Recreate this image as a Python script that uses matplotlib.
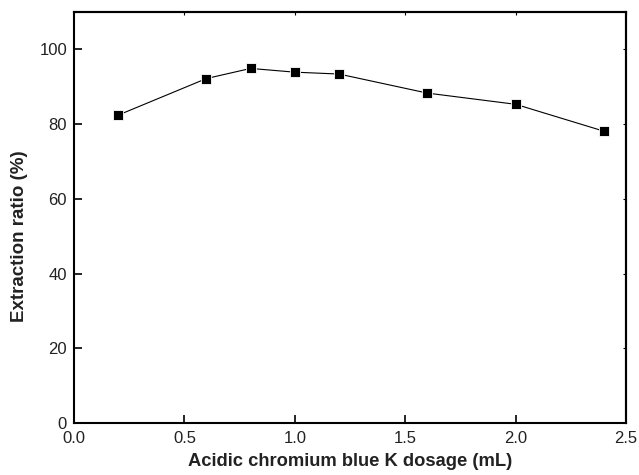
import matplotlib.pyplot as plt

plt.rcParams["font.family"] = ["Liberation Sans", "DejaVu Sans"]

dosage = [0.2, 0.6, 0.8, 1.0, 1.2, 1.6, 2.0, 2.4]
extraction = [82.4, 92.2, 94.9, 93.9, 93.4, 88.3, 85.3, 78.1]

fig = plt.figure(figsize=(6.39, 4.75), dpi=100)
ax = fig.add_axes([0.1158, 0.1095, 0.8639, 0.8652])

ax.plot(dosage, extraction, color="black", lw=0.8, marker="s", ms=7,
        mfc="black", mec="white", mew=0.6)

ax.set_xlim(0, 2.5)
ax.set_ylim(0, 110)
ax.set_xticks([0.0, 0.5, 1.0, 1.5, 2.0, 2.5])
ax.set_yticks([0, 20, 40, 60, 80, 100])
ax.tick_params(direction="in", length=6, width=1.2, labelsize=12, pad=5,
               labelcolor="#222222")
ax.tick_params(axis="x", pad=6)

for s in ax.spines.values():
    s.set_linewidth(1.5)

top = ax.secondary_xaxis("top")
top.set_xticks([0.5, 1.0, 1.5, 2.0, 2.5])
top.tick_params(direction="in", length=2.5, width=0.8, labeltop=False)
top.spines["top"].set_linewidth(1.5)
right = ax.secondary_yaxis("right")
right.set_yticks([20, 40, 60, 80, 100])
right.tick_params(direction="in", length=2.5, width=0.8, labelright=False)
right.spines["right"].set_linewidth(1.5)

ax.set_xlabel("Acidic chromium blue K dosage (mL)", fontsize=13.2,
              fontweight="bold", color="#222222", labelpad=5)
ax.set_ylabel("Extraction ratio (%)", fontsize=13.5, fontweight="bold",
              color="#222222", labelpad=8)
ax.yaxis.set_label_coords(-0.083, 0.455)

fig.savefig("out.png", dpi=100)
